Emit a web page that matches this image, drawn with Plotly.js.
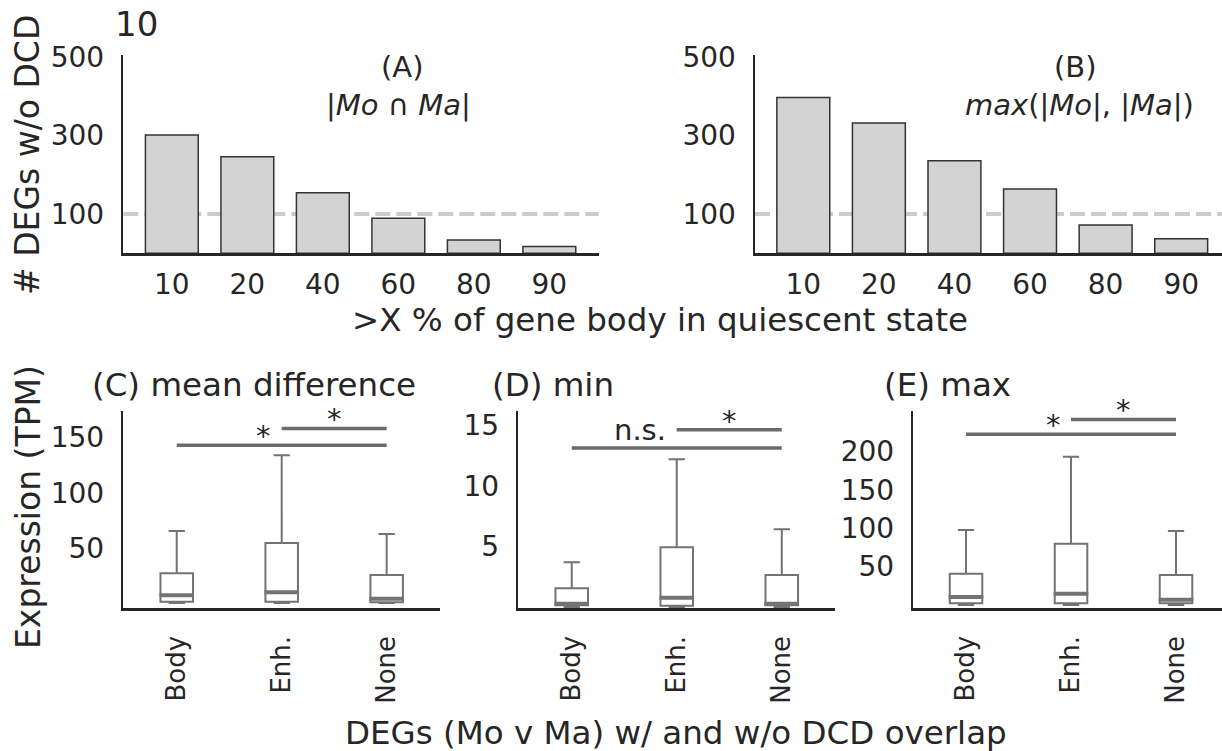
<!DOCTYPE html>
<html>
<head>
<meta charset="utf-8">
<script src="https://cdn.plot.ly/plotly-3.0.1.min.js"></script>
<style>html,body{margin:0;padding:0;background:#fff;}#chart{width:1222px;height:751px;}</style>
</head>
<body>
<div id="chart"></div>
<script>
// ---------- data ----------
const thresholds = ['10', '20', '40', '60', '80', '90'];
const intersectCounts = [301, 246, 154, 89, 34, 17];   // (A) |Mo ∩ Ma|
const maxCounts = [397, 332, 236, 164, 72, 37];        // (B) max(|Mo|,|Ma|)
const referenceLevel = 100;
const topYTicks = [100, 300, 500];

const boxCategories = ['Body', 'Enh.', 'None'];
// (C) mean difference
const meanDiffLower = [0.9, 1.0, 1.0];
const meanDiffQ1 = [2.1, 2.0, 1.5];
const meanDiffMedian = [7.8, 10.5, 4.8];
const meanDiffQ3 = [27.7, 55, 26];
const meanDiffUpper = [65.8, 134, 63];
// (D) min
const minLower = [0, 0, 0];
const minQ1 = [0.15, 0.1, 0.15];
const minMedian = [0.27, 0.77, 0.27];
const minQ3 = [1.55, 4.93, 2.64];
const minUpper = [3.7, 12.2, 6.42];
// (E) max
const maxLower = [0, 0, 0];
const maxQ1 = [2.2, 2.2, 2.2];
const maxMedian = [10.4, 14.7, 6.9];
const maxQ3 = [40.8, 80, 39];
const maxUpper = [97.8, 193.4, 96.5];

// significance brackets: [Body vs None, Enh. vs None]
const sigFrom = [0, 1];
const sigTo = [2, 2];
const sigMeanDiffHeights = [143, 158];
const sigMeanDiffLabels = ['*', '*'];
const sigMinHeights = [13.14, 14.65];
const sigMinLabels = ['n.s.', '*'];
const sigMaxHeights = [222.6, 242];
const sigMaxLabels = ['*', '*'];

const meanDiffYTicks = [50, 100, 150];
const minYTicks = [5, 10, 15];
const maxYTicks = [50, 100, 150, 200];

// ---------- style helpers ----------
const W = 1222, H = 751;
const px = x => x / W;
const py = y => 1 - y / H;
const FONT = 'DejaVu Sans';
const DARK = '#262626';
const BOXCOL = '#737373';
const SIGCOL = '#6b6b6b';
const TICKSIZE = 28;
const CATSIZE = 26;
const TITLESIZE = 32.5;
const NOTESIZE = 29;

function baseAxis(extra) {
  return Object.assign({
    showline: true, linecolor: DARK, linewidth: 2.5,
    showgrid: false, zeroline: false,
    ticks: 'outside', tickcolor: 'rgba(0,0,0,0)',
    tickfont: {family: FONT, size: TICKSIZE, color: DARK},
    fixedrange: true
  }, extra);
}

const barIdx = thresholds.map((_, i) => i);
const boxIdx = boxCategories.map((_, i) => i);
const BOXW = 0.31;

const traces = [];
function barTrace(vals, xa, ya) {
  return {
    type: 'bar', x: barIdx, y: vals, width: 0.7, xaxis: xa, yaxis: ya,
    marker: {color: '#d3d3d3', line: {color: '#333333', width: 1.5}},
    hoverinfo: 'skip'
  };
}
traces.push(barTrace(intersectCounts, 'x', 'y'));
traces.push(barTrace(maxCounts, 'x2', 'y2'));

function boxTraces(lower, q1, med, q3, upper, xa, ya) {
  const box = {
    type: 'box', x: boxIdx, q1: q1, median: med, q3: q3,
    lowerfence: lower, upperfence: upper,
    width: BOXW, whiskerwidth: 0.5, fillcolor: 'white',
    line: {color: BOXCOL, width: 2}, boxpoints: false,
    xaxis: xa, yaxis: ya, hoverinfo: 'skip'
  };
  const mx = [], my = [];
  boxIdx.forEach((i, k) => {
    mx.push(i - BOXW / 2 - 0.01, i + BOXW / 2 + 0.01, null);
    my.push(med[k], med[k], null);
  });
  const medLine = {
    type: 'scatter', mode: 'lines', x: mx, y: my, xaxis: xa, yaxis: ya,
    line: {color: BOXCOL, width: 4}, hoverinfo: 'skip'
  };
  return [box, medLine];
}
traces.push(...boxTraces(meanDiffLower, meanDiffQ1, meanDiffMedian, meanDiffQ3, meanDiffUpper, 'x3', 'y3'));
traces.push(...boxTraces(minLower, minQ1, minMedian, minQ3, minUpper, 'x4', 'y4'));
traces.push(...boxTraces(maxLower, maxQ1, maxMedian, maxQ3, maxUpper, 'x5', 'y5'));

const shapes = [];
const annotations = [];

// reference dashed lines
['', '2'].forEach(s => {
  shapes.push({
    type: 'line', xref: 'x' + s + ' domain', yref: 'y' + s,
    x0: 0, x1: 1, y0: referenceLevel, y1: referenceLevel,
    line: {color: '#cccccc', width: 4, dash: '15px,6px'}, layer: 'below'
  });
});

// significance brackets
function addSig(heights, labels, s) {
  heights.forEach((h, k) => {
    shapes.push({
      type: 'line', xref: 'x' + s, yref: 'y' + s,
      x0: sigFrom[k], x1: sigTo[k], y0: h, y1: h,
      line: {color: SIGCOL, width: 3.5}
    });
    const isStar = labels[k] === '*';
    const a = {
      xref: 'x' + s, yref: 'y' + s, y: h, yanchor: 'bottom',
      text: labels[k], showarrow: false,
      font: {family: FONT, size: 29, color: DARK},
      yshift: isStar ? -10 : -1
    };
    if (k === 0) { a.x = sigFrom[1] - 0.08; a.xanchor = 'right'; }
    else { a.x = (sigFrom[k] + sigTo[k]) / 2; a.xanchor = 'center'; }
    annotations.push(a);
  });
}
addSig(sigMeanDiffHeights, sigMeanDiffLabels, '3');
addSig(sigMinHeights, sigMinLabels, '4');
addSig(sigMaxHeights, sigMaxLabels, '5');

// text labels
function txt(text, x, y, size, opts) {
  annotations.push(Object.assign({
    xref: 'paper', yref: 'paper', x: px(x), y: py(y), text: text,
    showarrow: false, xanchor: 'center', yanchor: 'middle',
    font: {family: FONT, size: size, color: DARK}
  }, opts || {}));
}
txt('10', 136, 24, 34);
txt('# DEGs w/o DCD', 28, 155, 33, {textangle: -90});
txt('>X % of gene body in quiescent state', 660, 320, TITLESIZE);
txt('Expression (TPM)', 28, 507, 33, {textangle: -90});
txt('DEGs (Mo v Ma) w/ and w/o DCD overlap', 676, 733, TITLESIZE);
txt('(A)', 402, 67, NOTESIZE);
txt('|<i>Mo</i> ∩ <i>Ma</i>|', 398, 105, NOTESIZE);
txt('(B)', 1075, 67, NOTESIZE);
txt('<i>max</i>(|<i>Mo</i>|, |<i>Ma</i>|)', 1079, 105, NOTESIZE);
txt('(C) mean difference', 90, 385, TITLESIZE, {xanchor: 'left'});
txt('(D) min', 490, 385, TITLESIZE, {xanchor: 'left'});
txt('(E) max', 882, 385, TITLESIZE, {xanchor: 'left'});

const topY = [py(253.3), py(55)];
const botY = [py(608), py(410.7)];
const catFont = {family: FONT, size: CATSIZE, color: DARK};

const layout = {
  width: W, height: H,
  margin: {l: 0, r: 0, t: 0, b: 0},
  paper_bgcolor: 'white', plot_bgcolor: 'white',
  showlegend: false,
  font: {family: FONT, color: DARK},
  xaxis: baseAxis({domain: [px(123.3), px(598.7)], range: [-0.643, 5.654], tickvals: barIdx, ticktext: thresholds, ticklen: 5, anchor: 'y'}),
  yaxis: baseAxis({domain: topY, range: [0, 505], tickvals: topYTicks, ticklen: 11, anchor: 'x'}),
  xaxis2: baseAxis({domain: [px(755), 1], range: [-0.639, 5.54], tickvals: barIdx, ticktext: thresholds, ticklen: 5, anchor: 'y2'}),
  yaxis2: baseAxis({domain: topY, range: [0, 505], tickvals: topYTicks, ticklen: 11, anchor: 'x2'}),
  xaxis3: baseAxis({domain: [px(123.3), px(440)], range: [-0.509, 2.508], tickvals: boxIdx, ticktext: boxCategories, tickangle: -90, ticklen: 15, tickfont: catFont, anchor: 'y3'}),
  yaxis3: baseAxis({domain: botY, range: [-3.6, 174], tickvals: meanDiffYTicks, ticklen: 11, anchor: 'x3'}),
  xaxis4: baseAxis({domain: [px(518.3), px(835)], range: [-0.509, 2.507], tickvals: boxIdx, ticktext: boxCategories, tickangle: -90, ticklen: 15, tickfont: catFont, anchor: 'y4'}),
  yaxis4: baseAxis({domain: botY, range: [-0.08, 16.22], tickvals: minYTicks, ticklen: 11, anchor: 'x4'}),
  xaxis5: baseAxis({domain: [px(913.3), 1], range: [-0.502, 2.438], tickvals: boxIdx, ticktext: boxCategories, tickangle: -90, ticklen: 15, tickfont: catFont, anchor: 'y5'}),
  yaxis5: baseAxis({domain: botY, range: [-3.9, 253.4], tickvals: maxYTicks, ticklen: 11, anchor: 'x5'}),
  shapes: shapes,
  annotations: annotations
};

Plotly.newPlot('chart', traces, layout, {staticPlot: true, displayModeBar: false});
</script>
</body>
</html>
